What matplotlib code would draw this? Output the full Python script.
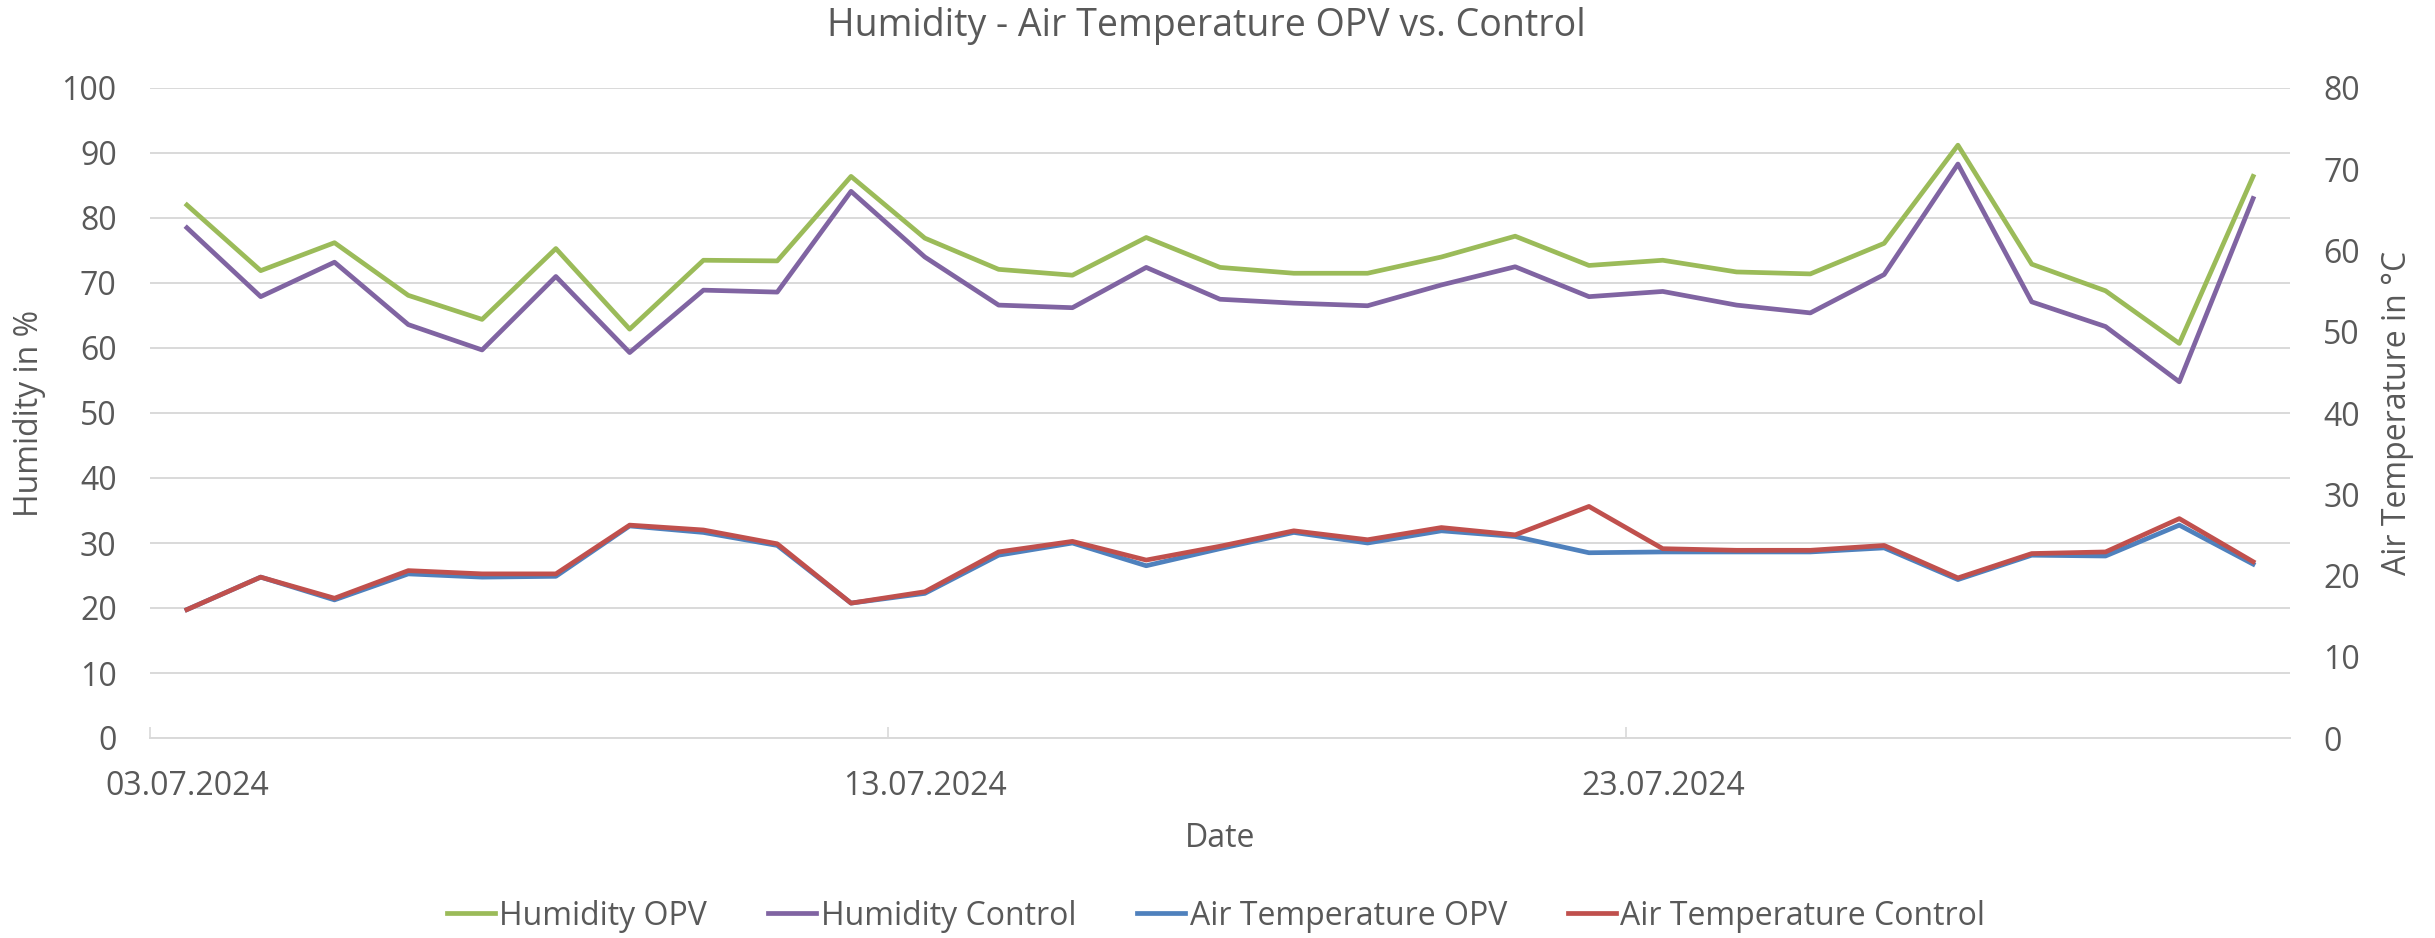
import numpy as np
import pandas as pd
import matplotlib
matplotlib.use("Agg")
import matplotlib.pyplot as plt
import matplotlib.dates as mdates

# daily means, 03.07.2024 - 31.07.2024
dates = pd.date_range("2024-07-03", periods=29, freq="D")

hum_opv = [82.0, 71.9, 76.2, 68.1, 64.4, 75.3, 62.9, 73.5, 73.4, 86.4,
           76.9, 72.1, 71.2, 77.0, 72.4, 71.5, 71.5, 74.0, 77.2, 72.7,
           73.5, 71.7, 71.4, 76.1, 91.2, 72.9, 68.8, 60.7, 86.4]
hum_ctrl = [78.5, 67.9, 73.2, 63.6, 59.7, 71.0, 59.3, 68.9, 68.6, 84.1,
            74.0, 66.6, 66.2, 72.4, 67.5, 66.9, 66.5, 69.7, 72.5, 67.9,
            68.7, 66.6, 65.4, 71.3, 88.3, 67.1, 63.3, 54.8, 83.0]
temp_opv = [15.8, 19.8, 17.0, 20.2, 19.8, 19.9, 26.1, 25.3, 23.7, 16.6,
            17.8, 22.5, 24.0, 21.2, 23.3, 25.3, 24.0, 25.5, 24.8, 22.8,
            22.9, 22.9, 22.9, 23.4, 19.5, 22.5, 22.4, 26.2, 21.4]
temp_ctrl = [15.8, 19.8, 17.2, 20.6, 20.2, 20.2, 26.2, 25.6, 23.9, 16.6,
             18.0, 22.9, 24.2, 21.9, 23.6, 25.5, 24.4, 25.9, 25.0, 28.5,
             23.3, 23.1, 23.1, 23.7, 19.7, 22.7, 22.9, 27.0, 21.7]

tick_dates = pd.to_datetime(["2024-07-03", "2024-07-13", "2024-07-23"])

# colors (Office palette)
c_green = "#9BBB59"
c_purple = "#8064A2"
c_blue = "#4F81BD"
c_red = "#C0504D"
c_text = "#595959"
c_grid = "#D9D9D9"

plt.rcParams["font.family"] = ["Open Sans", "DejaVu Sans"]

fig = plt.figure(figsize=(24.35, 9.38), dpi=100)
ax = fig.add_axes([150 / 2435, 1 - 738 / 938, 2140 / 2435, 650 / 938])
ax2 = ax.twinx()

# points sit in the middle of each day
x = dates + pd.Timedelta(hours=12)
lw = 3.4
l1, = ax.plot(x, hum_opv, color=c_green, lw=lw, label="Humidity OPV")
l2, = ax.plot(x, hum_ctrl, color=c_purple, lw=lw, label="Humidity Control")
l3, = ax2.plot(x, temp_opv, color=c_blue, lw=lw, label="Air Temperature OPV")
l4, = ax2.plot(x, temp_ctrl, color=c_red, lw=lw, label="Air Temperature Control")

ax.set_xlim(dates[0], dates[-1] + pd.Timedelta(days=1))
ax.set_ylim(0, 100)
ax2.set_ylim(0, 80)
ax.set_yticks(np.arange(0, 101, 10))
ax2.set_yticks(np.arange(0, 81, 10))

ax.grid(axis="y", color=c_grid, lw=1.4)
ax.set_axisbelow(True)
for a in (ax, ax2):
    for s in a.spines.values():
        s.set_visible(False)
ax.spines["bottom"].set_visible(True)
ax.spines["bottom"].set_color(c_grid)
ax.spines["bottom"].set_linewidth(1.4)

# tick marks at day boundaries, labels centred on the day
ax.xaxis.set_major_locator(mdates.DayLocator(bymonthday=[3, 13, 23]))
ax.xaxis.set_major_formatter(plt.NullFormatter())
ax.xaxis.set_minor_locator(plt.FixedLocator(mdates.date2num(tick_dates + pd.Timedelta(hours=12))))
ax.xaxis.set_minor_formatter(mdates.DateFormatter("%d.%m.%Y"))
ax.tick_params(axis="x", which="major", direction="in", length=8, width=1.2, color=c_grid)
ax.tick_params(axis="x", which="minor", length=0, pad=23, labelsize=23, labelcolor=c_text)
ax.tick_params(axis="y", length=0, pad=24, labelsize=23, labelcolor=c_text)
ax2.tick_params(axis="y", length=0, pad=24, labelsize=23, labelcolor=c_text)

fig.text(1206 / 2435, 1 - 26 / 938, "Humidity - Air Temperature OPV vs. Control",
         ha="center", va="center", fontsize=27, color=c_text)
fig.text(30 / 2435, 1 - 413 / 938, "Humidity in %", rotation=90,
         ha="center", va="center", fontsize=23, color=c_text)
fig.text(2397 / 2435, 1 - 413 / 938, "Air Temperature in °C", rotation=90,
         ha="center", va="center", fontsize=23, color=c_text)
fig.text(1220 / 2435, 1 - 838 / 938, "Date",
         ha="center", va="center", fontsize=23, color=c_text)

leg = fig.legend(handles=[l1, l2, l3, l4], loc="center", ncol=4,
                 bbox_to_anchor=(1216 / 2435, 1 - 916 / 938), frameon=False,
                 fontsize=23, handlelength=1.5, handletextpad=0.15,
                 columnspacing=1.9, labelcolor=c_text)

fig.savefig("out.png", dpi=100, facecolor="white")
